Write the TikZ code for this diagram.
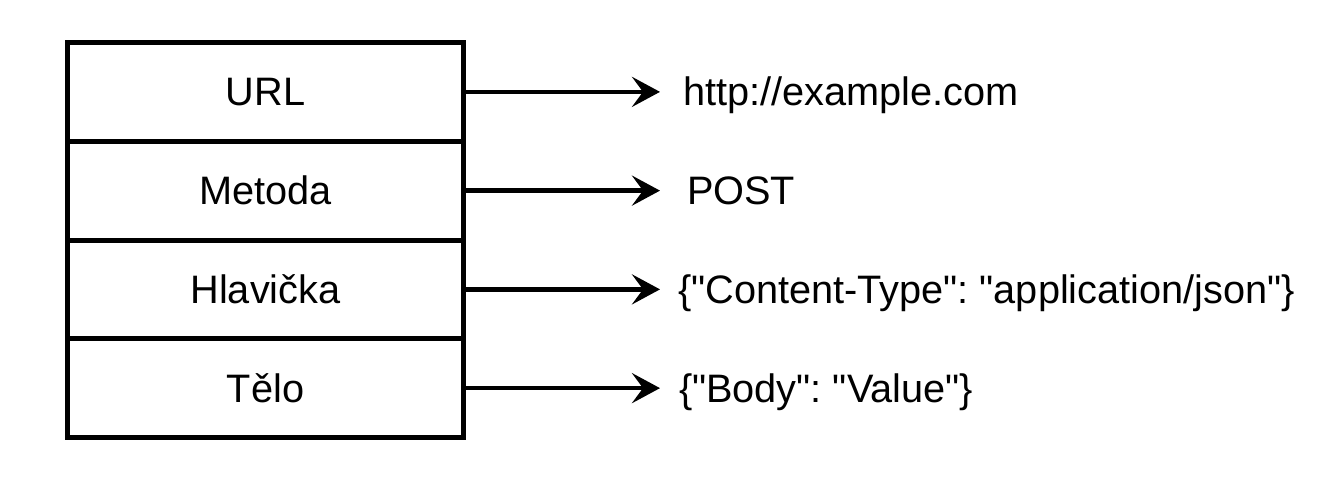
\documentclass[tikz,border=0pt]{standalone}
\usepackage{fontspec}
\setmainfont{Liberation Sans}[Ligatures=TeXOff]
\frenchspacing
\usetikzlibrary{arrows.meta}
\tikzset{
  rowbox/.style={draw=black, line width=5pt, minimum width=396pt, minimum height=98.75pt,
    inner sep=0pt, text height=28pt, text depth=0pt, font=\fontsize{39.7}{47}\selectfont},
  valtext/.style={anchor=west, inner ysep=0pt, outer sep=0pt, text height=28pt, text depth=0pt,
    font=\fontsize{39.7}{47}\selectfont},
  arr/.style={line width=4.5pt, -{Stealth[length=28pt,width=30pt,inset=11pt]}}
}
\begin{document}
\begin{tikzpicture}[x=1pt,y=-1pt]
\useasboundingbox[fill=white] (0,0) rectangle (1334,477);
\node[rowbox] (url) at (265.5,91.875) {URL};
\node[rowbox] (met) at (265.5,190.625) {Metoda};
\node[rowbox] (hla) at (265.5,289.375) {Hlavička};
\node[rowbox] (tel) at (265.5,388.125) {Tělo};
\node[valtext, inner xsep=23pt] (v1) at (660,91.875) {http://example.com};
\node[valtext, inner xsep=27pt] (v2) at (660,190.625) {POST};
\node[valtext, inner xsep=18pt] (v3) at (660,289.375) {\{"Content-Type": "application/json"\}};
\node[valtext, inner xsep=19pt] (v4) at (660,388.125) {\{"Body": "Value"\}};
\draw[arr] (url.east) -- (v1.west);
\draw[arr] (met.east) -- (v2.west);
\draw[arr] (hla.east) -- (v3.west);
\draw[arr] (tel.east) -- (v4.west);
\end{tikzpicture}
\end{document}
